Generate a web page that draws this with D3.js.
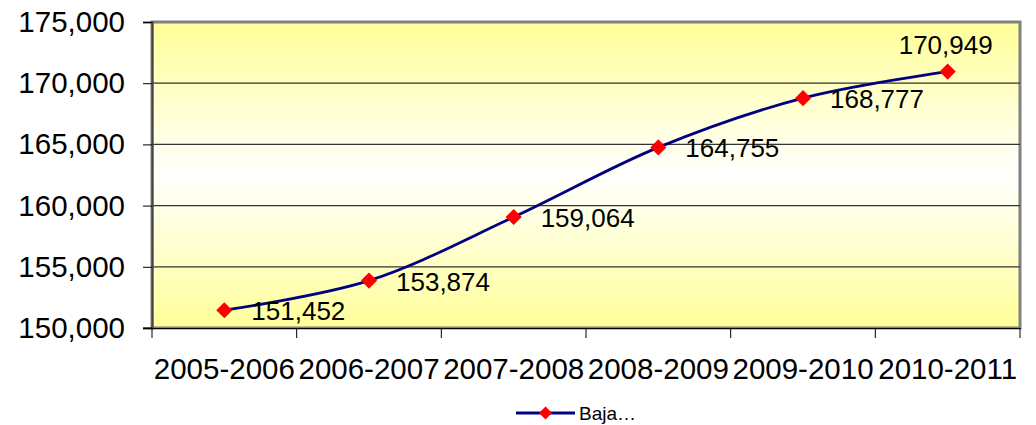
<!DOCTYPE html>
<html><head><meta charset="utf-8">
<script src="https://cdn.jsdelivr.net/npm/d3@7"></script>
<style>body{margin:0;background:#fff}svg{display:block;font-family:"Liberation Sans",Arial,sans-serif}</style>
</head><body>
<svg id="c" width="1036" height="425"></svg>
<script>
const categories = ["2005-2006","2006-2007","2007-2008","2008-2009","2009-2010","2010-2011"];
const values = [151452,153874,159064,164755,168777,170949];
const labels = ["151,452","153,874","159,064","164,755","168,777","170,949"];
const yTicks = [150000,155000,160000,165000,170000,175000];
const seriesName = "Baja…";

const svg = d3.select("#c");
const L=152, R=1020, T=22, B=328;
const x = d3.scaleBand().domain(categories).range([L,R]);
const y = d3.scaleLinear().domain([150000,175000]).range([B,T]);

const defs = svg.append("defs");
const g = defs.append("linearGradient").attr("id","bg").attr("x1",0).attr("y1",0).attr("x2",0).attr("y2",1);
g.append("stop").attr("offset","0%").attr("stop-color","#ffff99");
g.append("stop").attr("offset","50%").attr("stop-color","#ffffff");
g.append("stop").attr("offset","100%").attr("stop-color","#ffff99");

svg.append("rect").attr("x",L).attr("y",T).attr("width",R-L).attr("height",B-T)
  .attr("fill","url(#bg)").attr("stroke","#808080").attr("stroke-width",3);

// gridlines
svg.append("g").selectAll("line").data(yTicks.slice(1,-1)).join("line")
  .attr("x1",L).attr("x2",R).attr("y1",d=>y(d)).attr("y2",d=>y(d))
  .attr("stroke","#333").attr("stroke-width",1.2);

// y axis
const ya = svg.append("g").attr("transform",`translate(${L},0)`)
  .call(d3.axisLeft(y).tickValues(yTicks).tickFormat(d3.format(",")).tickSize(9).tickPadding(18));
ya.select(".domain").attr("stroke","#444").attr("stroke-width",2);
ya.selectAll(".tick line").attr("stroke","#000");
ya.selectAll("text").attr("font-size",29.5).attr("fill","#000").attr("font-family","Liberation Sans, Arial, sans-serif");

// x axis
const xa = svg.append("g").attr("transform",`translate(0,${B})`)
  .call(d3.axisBottom(x).tickSize(0).tickPadding(30));
xa.select(".domain").attr("stroke","#000").attr("stroke-width",1);
xa.selectAll("text").attr("font-size",29.5).attr("fill","#000").attr("font-family","Liberation Sans, Arial, sans-serif");
const bounds = categories.map(c=>x(c)).concat([R]);
svg.append("g").selectAll("line").data(bounds).join("line")
  .attr("x1",d=>d).attr("x2",d=>d).attr("y1",B).attr("y2",B+10).attr("stroke","#000");
svg.append("line").attr("x1",L-9).attr("x2",L).attr("y1",B).attr("y2",B).attr("stroke","#000");

// line
const px = c=>x(c)+x.bandwidth()/2;
const data = categories.map((c,i)=>({c,v:values[i],l:labels[i]}));
svg.append("path").datum(data)
  .attr("d",d3.line().x(d=>px(d.c)).y(d=>y(d.v)).curve(d3.curveCatmullRom.alpha(0.5)))
  .attr("fill","none").attr("stroke","#000080").attr("stroke-width",2.8);

const diamond = d3.symbol().type(d3.symbolSquare).size(130);
svg.append("g").selectAll("path").data(data).join("path")
  .attr("d",diamond).attr("transform",d=>`translate(${px(d.c)},${y(d.v)}) rotate(45)`)
  .attr("fill","#ff0000");

// labels
svg.append("g").selectAll("text").data(data).join("text")
  .attr("x",(d,i)=> i===data.length-1 ? px(d.c)-2 : px(d.c)+27)
  .attr("y",(d,i)=> i===data.length-1 ? y(d.v)-18 : y(d.v)+10)
  .attr("text-anchor",(d,i)=> i===data.length-1 ? "middle" : "start")
  .attr("font-size",26).attr("fill","#000").text(d=>d.l);

// legend
const lg = svg.append("g").attr("transform","translate(516,413)");
lg.append("line").attr("x1",0).attr("x2",59).attr("y1",0).attr("y2",0).attr("stroke","#000080").attr("stroke-width",2.8);
lg.append("path").attr("d",d3.symbol().type(d3.symbolSquare).size(85)).attr("transform","translate(29.5,0) rotate(45)").attr("fill","#ff0000");
lg.append("text").attr("x",63).attr("y",7).attr("font-size",19).attr("fill","#000").text(seriesName);
</script>
</body></html>
